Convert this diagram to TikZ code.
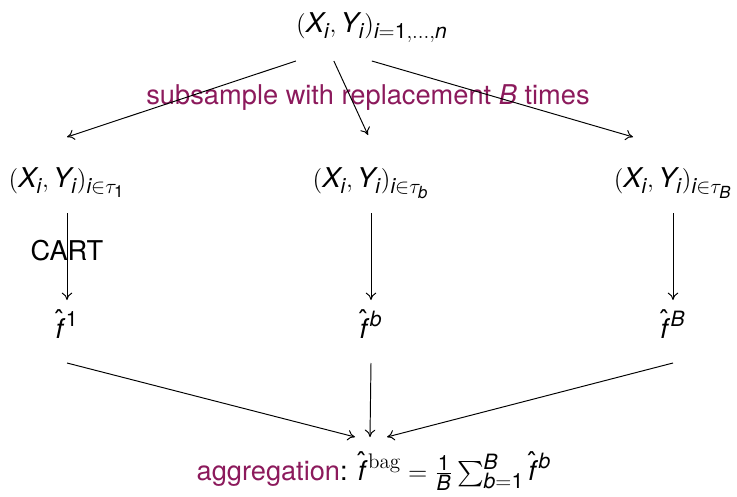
\documentclass[tikz,border=0pt]{standalone}
\usepackage{amsmath}
\usepackage{fontspec}
\setmainfont{TeX Gyre Heros}
\setsansfont{TeX Gyre Heros}
\usetikzlibrary{arrows.meta}

% sans letters and digits inside formulas
\newcommand{\mv}[1]{\textit{#1}}
\newcommand{\mn}[1]{\textup{#1}}
\newcommand{\fhat}{\mathord{\rlap{\hspace{-0.04em}\smash{\raisebox{0.3em}{\char"02C6}}}\textit{f}\mkern2mu}}
\DeclareMathSizes{15.5}{15.5}{12}{9.5}

\begin{document}
\begin{tikzpicture}[font=\fontsize{15.5}{18}\selectfont]
    \def\colL{1.34}
    \def\colM{7.42}
    \def\colR{13.46}

    \definecolor{labelColour}{HTML}{8C1A5C}

    \tikzset{
        arr/.style={-{To[length=4.2pt,width=6pt]}, line width=0.55pt},
        txt/.style={anchor=base, inner sep=0pt},
    }

    \useasboundingbox (0,0) rectangle (14.74,9.92);

    % Full sample
    \node[txt] (data) at (7.44,9.28) {$(\mv{X}_{\mv{i}}, \mv{Y}_{\mv{i}})_{\mv{i}=\mn{1},\dots,\mv{n}}$};
    \node[txt, text=labelColour] (subsample) at (7.36,7.82) {subsample with replacement \textit{B} times};

    % Bootstrap samples
    \node[txt] (sampleOne) at (\colL,6.18) {$(\mv{X}_{\mv{i}}, \mv{Y}_{\mv{i}})_{\mv{i}\in\tau_{\mn{1}}}$};
    \node[txt] (sampleB) at (\colM,6.18) {$(\mv{X}_{\mv{i}}, \mv{Y}_{\mv{i}})_{\mv{i}\in\tau_{\mv{b}}}$};
    \node[txt] (sampleLast) at (\colR,6.18) {$(\mv{X}_{\mv{i}}, \mv{Y}_{\mv{i}})_{\mv{i}\in\tau_{\mv{B}}}$};

    % Fitted trees
    \node[txt] (fitOne) at (\colL,3.16) {$\fhat^{\mn{1}}$};
    \node[txt] (fitB) at (\colM,3.16) {$\fhat^{\mv{b}}$};
    \node[txt] (fitLast) at (\colR,3.16) {$\fhat^{\mv{B}}$};

    % Aggregated predictor
    \node[txt] (aggregate) at (7.48,0.32) {\textcolor{labelColour}{aggregation}: $\fhat^{\text{\fontfamily{lmr}\selectfont bag}} = \frac{\mn{1}}{\mv{B}}\sum_{\mv{b}=\mn{1}}^{\mv{B}}\fhat^{\mv{b}}$};

    % Subsampling
    \draw[arr] ([shift={(0,-0.58)}]data.base west) -- ([shift={(0,1.0)}]sampleOne.base);
    \draw[arr] ([shift={(0.76,-0.58)}]data.base west) -- ([shift={(-0.06,1.04)}]sampleB.base);
    \draw[arr] ([shift={(1.52,-0.58)}]data.base west) -- ([shift={(-0.80,1.0)}]sampleLast.base);

    % Tree fitting
    \draw[arr] ([yshift=-0.52cm]sampleOne.base) -- ([yshift=0.76cm]fitOne.base) node[pos=0.43] (cart) {CART};
    \draw[arr] ([yshift=-0.52cm]sampleB.base) -- ([yshift=0.76cm]fitB.base);
    \draw[arr] ([yshift=-0.52cm]sampleLast.base) -- ([yshift=0.76cm]fitLast.base);

    % Aggregation
    \draw[arr] ([yshift=-0.5cm]fitOne.base) -- ([shift={(-0.38,0.86)}]aggregate.base);
    \draw[arr] ([yshift=-0.5cm]fitB.base) -- ([shift={(-0.08,0.86)}]aggregate.base);
    \draw[arr] ([yshift=-0.5cm]fitLast.base) -- ([shift={(0.26,0.86)}]aggregate.base);

\end{tikzpicture}
\end{document}
